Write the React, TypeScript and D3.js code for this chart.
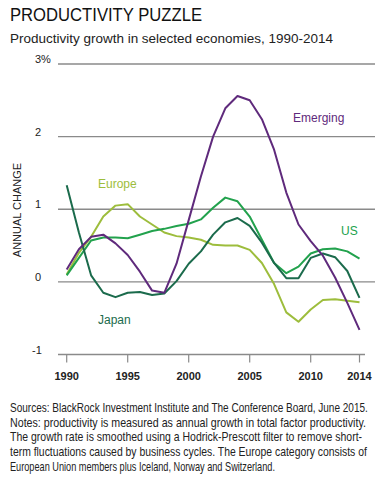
import React, { useLayoutEffect, useRef } from "react";
import * as d3 from "d3";

const years = d3.range(1990, 2015);
const emerging = [0.17, 0.45, 0.62, 0.65, 0.53, 0.37, 0.14, -0.12, -0.15, 0.25, 0.85, 1.45, 2.0, 2.39, 2.56, 2.5, 2.24, 1.82, 1.23, 0.79, 0.56, 0.36, 0.06, -0.29, -0.66];
const europe = [0.1, 0.4, 0.62, 0.9, 1.05, 1.07, 0.9, 0.79, 0.68, 0.63, 0.61, 0.58, 0.51, 0.5, 0.5, 0.44, 0.26, -0.03, -0.42, -0.55, -0.38, -0.25, -0.24, -0.26, -0.28];
const us = [0.09, 0.33, 0.57, 0.61, 0.61, 0.6, 0.65, 0.7, 0.73, 0.77, 0.8, 0.86, 1.02, 1.16, 1.11, 0.9, 0.58, 0.26, 0.12, 0.21, 0.39, 0.45, 0.46, 0.42, 0.32];
const japan = [1.33, 0.68, 0.09, -0.15, -0.21, -0.15, -0.14, -0.18, -0.16, 0.01, 0.25, 0.42, 0.65, 0.82, 0.88, 0.77, 0.54, 0.26, 0.05, 0.05, 0.33, 0.39, 0.34, 0.15, -0.22];
const yTicks = [3, 2, 1, 0, -1];
const xTicks = [1990, 1995, 2000, 2005, 2010, 2014];
const notes = [
  "Sources: BlackRock Investment Institute and The Conference Board, June 2015.",
  "Notes: productivity is measured as annual growth in total factor productivity.",
  "The growth rate is smoothed using a Hodrick-Prescott filter to remove short-",
  "term fluctuations caused by business cycles. The Europe category consists of",
  "European Union members plus Iceland, Norway and Switzerland.",
];

const series = [
  { name: "Europe", values: europe, color: "#9dbd3c", lx: 98, ly: 184 },
  { name: "US", values: us, color: "#22a24d", lx: 341, ly: 231 },
  { name: "Japan", values: japan, color: "#1b6b4c", lx: 98, ly: 320 },
  { name: "Emerging", values: emerging, color: "#5f2a7c", lx: 293, ly: 118 },
];

const noteWidths = [358, 356, 352, 357, 265];

export default function App() {
  const notesRef = useRef<SVGGElement>(null);
  useLayoutEffect(() => {
    const g = notesRef.current;
    if (!g) return;
    const texts = g.querySelectorAll("text");
    texts.forEach((t, i) => {
      const w = (t as SVGTextElement).getComputedTextLength();
      if (w > 0) {
        const s = noteWidths[i] / w;
        t.setAttribute("transform", `translate(10,0) scale(${s},1)`);
      }
    });
  }, []);
  const x = d3.scaleLinear().domain([1990, 2014]).range([66.7, 359.5]);
  const y = d3.scaleLinear().domain([-1, 3]).range([354.5, 64]);
  const line = (vals: number[]) =>
    d3.line<number>().x((_, i) => x(years[i])).y((d) => y(d))(vals) || "";
  const font = "'Liberation Sans', Arial, sans-serif";
  return (
    <svg width={379} height={479} style={{ position: "absolute", left: 0, top: 0, background: "#fff" }}>
      <text x={10} y={21} fontFamily={font} fontSize={17.5} fill="#111" textLength={192} lengthAdjust="spacingAndGlyphs">PRODUCTIVITY PUZZLE</text>
      <text x={10} y={43} fontFamily={font} fontSize={13} fill="#222" textLength={323} lengthAdjust="spacingAndGlyphs">Productivity growth in selected economies, 1990-2014</text>
      {yTicks.map((t) => (
        <g key={t}>
          <line x1={58} x2={t === -1 ? 365 : 375} y1={y(t)} y2={y(t)} stroke="#8a8a8a" strokeWidth={1.3} />
          <text x={t === -1 ? 32 : 35} y={y(t) - 1} fontFamily={font} fontSize={11} fill="#222">{t === 3 ? "3%" : t}</text>
        </g>
      ))}
      {xTicks.map((t) => (
        <g key={t}>
          <line x1={x(t)} x2={x(t)} y1={y(-1)} y2={y(-1) + 8} stroke="#8a8a8a" strokeWidth={1.2} />
          <text x={x(t)} y={380} textAnchor="middle" fontFamily={font} fontSize={11} fontWeight={700} fill="#222">{t}</text>
        </g>
      ))}
      <text transform="translate(21,210) rotate(-90)" textAnchor="middle" fontFamily={font} fontSize={11} fill="#222">ANNUAL CHANGE</text>
      {series.map((s) => (
        <path key={s.name} d={line(s.values)} fill="none" stroke={s.color} strokeWidth={2} strokeLinejoin="round" />
      ))}
      {series.map((s) => (
        <text key={s.name + "l"} x={s.lx} y={s.ly + 4} fontFamily={font} fontSize={12} fill={s.color}>{s.name}</text>
      ))}
      <g ref={notesRef}>
        {notes.map((n, i) => (
          <text key={i} x={0} y={412 + i * 14.7} transform="translate(10,0) scale(0.8,1)" fontFamily="'Liberation Sans Narrow', 'Liberation Sans', Arial, sans-serif" fontSize={12} fill="#222">{n}</text>
        ))}
      </g>
    </svg>
  );
}
